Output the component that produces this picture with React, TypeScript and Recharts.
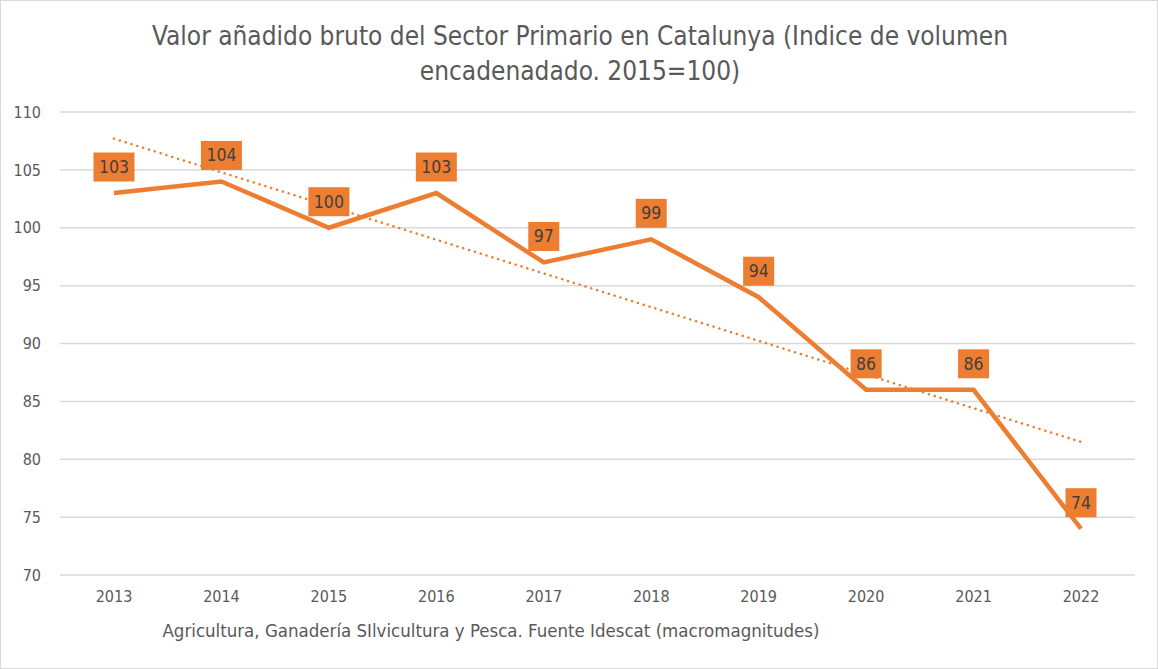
import React from 'react';
import { LineChart, Line, XAxis, YAxis, CartesianGrid, ReferenceLine, LabelList } from 'recharts';

const years = ['2013', '2014', '2015', '2016', '2017', '2018', '2019', '2020', '2021', '2022'];
const values = [103, 104, 100, 103, 97, 99, 94, 86, 86, 74];
const yTicks = [70, 75, 80, 85, 90, 95, 100, 105, 110];
// trend line ends
const trendStart = 107.7;
const trendEnd = 81.5;

const data = years.map((year, i) => ({ year, value: values[i] }));

const ORANGE = '#ED7D31';
const GREY_TEXT = '#595959';
const FONT = '"Liberation Sans Narrow", "DejaVu Sans Condensed", "Liberation Sans", sans-serif';

const BoxLabel = (props: any) => {
  const { x, y, value } = props;
  const txt = String(value);
  const w = txt.length * 10 + 11;
  const h = 29;
  const cy = y - 26;
  return (
    <g>
      <rect x={x - w / 2} y={cy - h / 2} width={w} height={h} fill={ORANGE} />
      <text x={x} y={cy} textAnchor="middle" dominantBaseline="central" fill="#404040" fontSize={17.5} fontFamily={FONT}>
        {txt}
      </text>
    </g>
  );
};

export default function App() {
  return (
    <div
      style={{
        position: 'fixed',
        left: 0,
        top: 0,
        width: 1158,
        height: 669,
        background: '#fff',
        border: '1px solid #d9d9d9',
        boxSizing: 'border-box',
        fontFamily: FONT,
      }}
    >
      <div
        style={{
          position: 'absolute',
          top: 18,
          left: 0,
          width: 1158,
          textAlign: 'center',
          color: GREY_TEXT,
          fontSize: 26,
          lineHeight: '35px',
        }}
      >
        Valor añadido bruto del Sector Primario en Catalunya (Indice de volumen
        <br />
        encadenadado. 2015=100)
      </div>
      <div style={{ position: 'absolute', left: -1, top: -1 }}>
        <LineChart width={1158} height={669} data={data} margin={{ top: 112, right: 23, bottom: 64, left: 10 }}>
          <CartesianGrid vertical={false} stroke="#d9d9d9" strokeWidth={1.5} />
          <XAxis
            dataKey="year"
            axisLine={false}
            tickLine={false}
            tickSize={0}
            tickMargin={16}
            height={30}
            padding={{ left: 54, right: 54 }}
            tick={{ fill: GREY_TEXT, fontSize: 16, fontFamily: FONT }}
          />
          <YAxis
            domain={[70, 110]}
            ticks={yTicks}
            axisLine={false}
            tickLine={false}
            tickSize={0}
            tickMargin={19}
            width={50}
            interval={0}
            tick={{ fill: GREY_TEXT, fontSize: 16, fontFamily: FONT }}
          />
          <ReferenceLine
            segment={[
              { x: '2013', y: trendStart },
              { x: '2022', y: trendEnd },
            ]}
            stroke={ORANGE}
            strokeWidth={2.5}
            strokeDasharray="0.1 6"
            strokeLinecap="round"
          />
          <Line
            type="linear"
            dataKey="value"
            stroke={ORANGE}
            strokeWidth={4.5}
            dot={false}
            activeDot={false}
            isAnimationActive={false}
          >
            <LabelList dataKey="value" content={<BoxLabel />} />
          </Line>
        </LineChart>
      </div>
      <div
        style={{
          position: 'absolute',
          top: 619,
          left: 0,
          width: 980,
          textAlign: 'center',
          color: GREY_TEXT,
          fontSize: 18.5,
        }}
      >
        Agricultura, Ganadería SIlvicultura y Pesca. Fuente Idescat (macromagnitudes)
      </div>
    </div>
  );
}
